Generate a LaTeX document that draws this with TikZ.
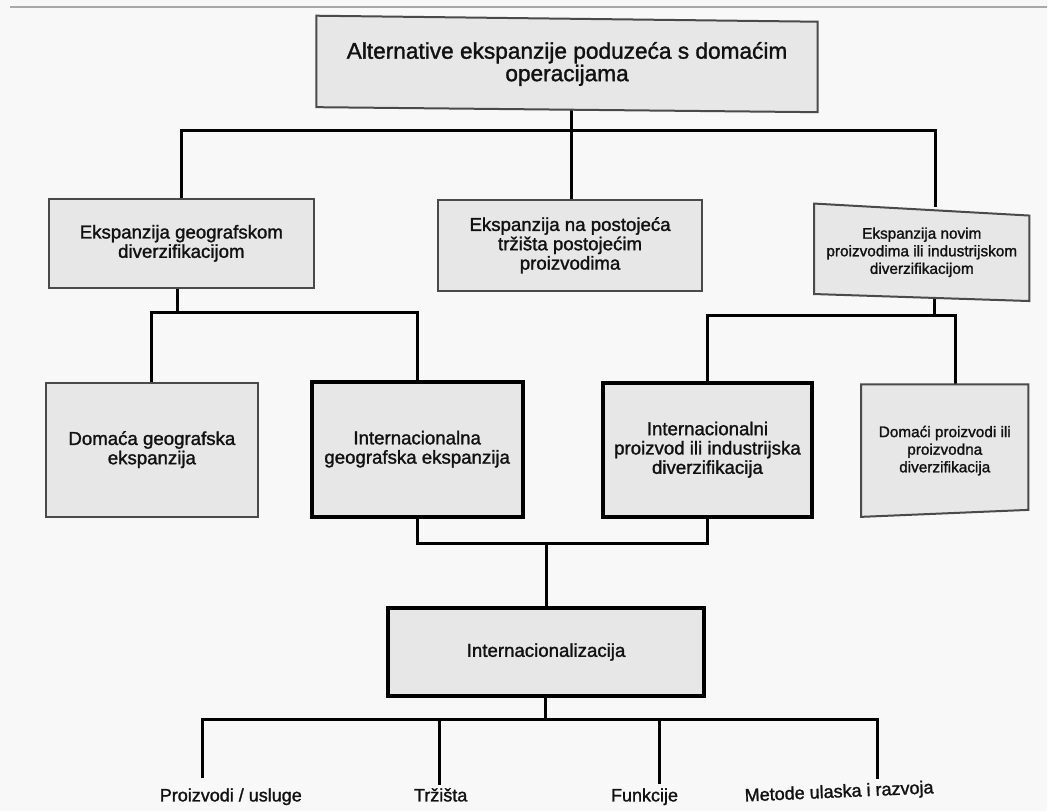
\documentclass[tikz,border=0pt]{standalone}
\usepackage{fontspec}
\setmainfont[FakeBold=1.4]{Liberation Sans}
\usetikzlibrary{calc}
\pgfdeclarelayer{bgl}
\pgfdeclarelayer{connl}
\pgfdeclarelayer{boxl}
\pgfsetlayers{bgl,connl,boxl,main}
\definecolor{bgc}{HTML}{F8F8F8}
\definecolor{boxfill}{HTML}{E7E7E7}
\definecolor{boxline}{HTML}{4A4A4A}
\definecolor{rulec}{HTML}{A8A8A8}
\definecolor{inkc}{HTML}{111111}
\tikzset{
  box/.style={draw=boxline, line width=1.5pt, fill=boxfill, align=center, inner sep=0pt, text=inkc},
  thickbox/.style={box, draw=black, line width=3pt},
  ghostbox/.style={draw=none, fill=none, align=center, inner sep=0pt, text=inkc},
  skewbox/.style={draw=boxline, line width=1.5pt, fill=boxfill, line join=miter},
  conn/.style={draw=black, line width=2.4pt, line join=miter},
  lbl/.style={inner sep=0pt, anchor=base, text=inkc, font=\fontsize{13.5}{15}\selectfont},
  fbig/.style={font=\fontsize{17}{15}\selectfont},
  fmid/.style={font=\fontsize{14}{14.5}\selectfont},
  fsmall/.style={font=\fontsize{11.5}{13.2}\selectfont},
}
\begin{document}
\begin{tikzpicture}[x=0.75pt,y=-0.75pt]
\begin{pgfonlayer}{bgl}
\fill[bgc] (0,0) rectangle (1048,812);
\draw[rulec, line width=1.2pt] (10,7) -- (1048,7);
\end{pgfonlayer}

% top box
\node[ghostbox, fbig, minimum width=375.75pt, minimum height=69pt] (top) at (567.5,64)
  {Alternative ekspanzije poduzeća s domaćim\\operacijama};

% level 2
\node[box, fmid, minimum width=198.75pt, minimum height=66.75pt] (L2a) at (181.5,243.5)
  {Ekspanzija geografskom\\diverzifikacijom};
\node[box, fmid, minimum width=198.75pt, minimum height=68.25pt] (L2b) at (570.5,245.5)
  {Ekspanzija na postojeća\\tržišta postojećim\\proizvodima};
\node[ghostbox, fsmall, minimum width=161.25pt, minimum height=67.5pt] (L2c) at (922.5,252.5)
  {Ekspanzija novim\\proizvodima ili industrijskom\\diverzifikacijom};

% level 3
\node[box, fmid, minimum width=159pt, minimum height=100.5pt] (L3a) at (152,450)
  {Domaća geografska\\ekspanzija};
\node[thickbox, fmid, minimum width=158.25pt, minimum height=101.25pt] (L3b) at (417.5,449.5)
  {Internacionalna\\geografska ekspanzija};
\node[thickbox, fmid, minimum width=157.5pt, minimum height=100.5pt] (L3c) at (708,450)
  {Internacionalni\\proizvod ili industrijska\\diverzifikacija};
\node[ghostbox, fsmall, minimum width=125.25pt, minimum height=99pt] (L3d) at (945.5,451)
  {Domaći proizvodi ili\\proizvodna\\diverzifikacija};

% internationalisation
\node[thickbox, fmid, minimum width=237.75pt, minimum height=66.75pt] (Int) at (546.5,652.5)
  {Internacionalizacija};

% bottom labels
\node[lbl] (P1) at (231,802) {Proizvodi / usluge};
\node[lbl] (P2) at (441,802) {Tržišta};
\node[lbl] (P3) at (645,802) {Funkcije};
\node[lbl, rotate=2.5] (P4) at (840,798) {Metode ulaska i razvoja};

% skewed outlines
\begin{pgfonlayer}{boxl}
\draw[skewbox] ($(top.north west)+(0,-2)$) -- ($(top.north east)+(0,4)$)
  -- ($(top.south east)+(0,2)$) -- ($(top.south west)+(0,-3)$) -- cycle;
\draw[skewbox] ($(L2c.north west)+(0,-3.5)$) -- ($(L2c.north east)+(0,8.5)$)
  -- ($(L2c.south east)+(0,3.5)$) -- ($(L2c.south west)+(0,-3.5)$) -- cycle;
\draw[skewbox] (L3d.north west) -- (L3d.north east)
  -- ($(L3d.south east)+(0,-7)$) -- (L3d.south west) -- cycle;
\end{pgfonlayer}

% junctions
\coordinate (j0) at (572,131);
\coordinate (b1l) at (182,131);
\coordinate (b1r) at (936,131);
\coordinate (j2) at (178,313);
\coordinate (j3) at (935,316);
\coordinate (k3) at (956,316);
\coordinate (j4) at (547,544);
\coordinate (j5) at (546,720);
\coordinate (e1) at (203,779);
\coordinate (e2) at (440,786);
\coordinate (e3) at (660,785);
\coordinate (e4) at (878,780);

\begin{pgfonlayer}{connl}
\draw[conn] (top.south -| j0) -- (L2b.north -| j0);
\draw[conn] (L2a.north -| b1l) -- (b1l) -- (b1r) -- (L2c.north -| b1r);
\draw[conn] (L2a.south -| j2) -- (j2);
\draw[conn] (L3a.north) |- (j2) -| (L3b.north);
\draw[conn] (L2c.south -| j3) -- (j3);
\draw[conn] (L3c.north) |- (k3) -- (L3d.north -| k3);
\draw[conn] (L3b.south) |- (j4) -| (L3c.south);
\draw[conn] (j4) -- (Int.north -| j4);
\draw[conn] (Int.south -| j5) -- (j5);
\draw[conn] (e1) -- (e1 |- j5) -- (e4 |- j5) -- (e4);
\draw[conn] (e2 |- j5) -- (e2);
\draw[conn] (e3 |- j5) -- (e3);
\end{pgfonlayer}
\end{tikzpicture}
\end{document}
